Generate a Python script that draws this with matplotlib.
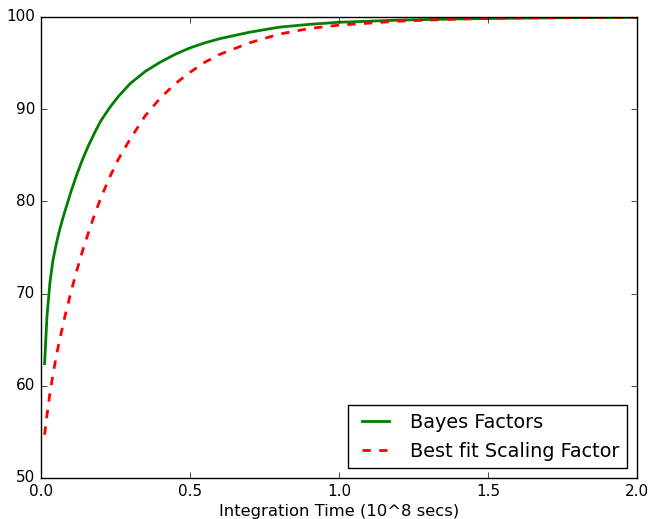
import matplotlib
matplotlib.use("Agg")
import matplotlib.pyplot as plt
import numpy as np

# values
bayes_x = [0.012, 0.02, 0.03, 0.04, 0.05, 0.06, 0.07, 0.08, 0.10, 0.12, 0.14, 0.16,
           0.18, 0.20, 0.23, 0.26, 0.30, 0.35, 0.40, 0.45, 0.50, 0.55, 0.60, 0.70,
           0.80, 0.90, 1.00, 1.20, 1.40, 1.60, 1.80, 2.00]
bayes_y = [62.4, 67.5, 71.2, 73.6, 75.2, 76.6, 77.8, 78.9, 81.0, 82.9, 84.6, 86.1,
           87.45, 88.7, 90.15, 91.4, 92.8, 94.1, 95.1, 95.95, 96.65, 97.2, 97.65, 98.35,
           98.9, 99.2, 99.43, 99.66, 99.79, 99.88, 99.93, 99.96]

scale_x = [0.012, 0.02, 0.03, 0.04, 0.05, 0.06, 0.08, 0.10, 0.12, 0.14, 0.16, 0.18,
           0.20, 0.23, 0.26, 0.30, 0.35, 0.40, 0.45, 0.50, 0.55, 0.60, 0.70, 0.80,
           0.90, 1.00, 1.20, 1.40, 1.60, 1.80, 2.00]
scale_y = [54.7, 56.8, 59.2, 61.2, 63.0, 64.6, 67.5, 70.1, 72.5, 74.7, 76.7, 78.6,
           80.3, 82.6, 84.6, 86.8, 89.3, 91.2, 92.75, 94.0, 95.1, 95.95, 97.2, 98.15,
           98.75, 99.12, 99.55, 99.78, 99.89, 99.94, 99.97]

plt.style.use("classic")

fig = plt.figure(figsize=(6.48, 5.19), dpi=100, facecolor="white")
ax = fig.add_axes([41 / 648, 1 - 478 / 519, 596 / 648, 461 / 519])

ax.plot(bayes_x, bayes_y, color="green", linestyle="-", linewidth=2, label="Bayes Factors")
ax.plot(scale_x, scale_y, color="red", linestyle="--", linewidth=2, label="Best fit Scaling Factor")

ax.set_xlim(0.0, 2.0)
ax.set_ylim(50, 100)
ax.set_xticks(np.arange(0.0, 2.01, 0.5))
ax.set_yticks(np.arange(50, 101, 10))
ax.set_xlabel("Integration Time (10^8 secs)", fontsize=11.8, labelpad=4)
ax.tick_params(labelsize=11)
ax.legend(loc="lower right", fontsize=13.9)

fig.savefig("out.png", dpi=100, facecolor="white")
plt.close(fig)
